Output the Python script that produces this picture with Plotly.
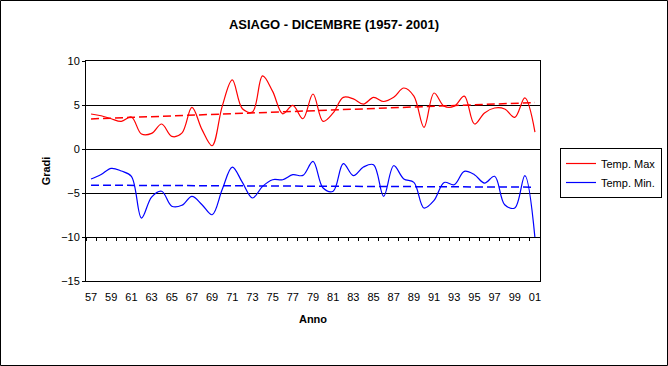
import numpy as np
import plotly.graph_objects as go

years = ["57", "58", "59", "60", "61", "62", "63", "64", "65", "66", "67", "68",
         "69", "70", "71", "72", "73", "74", "75", "76", "77", "78", "79", "80",
         "81", "82", "83", "84", "85", "86", "87", "88", "89", "90", "91", "92",
         "93", "94", "95", "96", "97", "98", "99", "00", "01"]

temp_max = [3.98, 3.78, 3.44, 3.14, 3.64, 1.70, 1.77, 2.84, 1.43, 1.80, 4.73, 2.20,
            0.37, 4.85, 7.85, 4.58, 4.20, 8.30, 6.55, 4.00, 4.95, 3.44, 6.25, 3.14,
            4.10, 5.87, 5.70, 5.10, 5.87, 5.40, 5.87, 6.93, 6.00, 2.46, 6.36, 4.85,
            4.85, 6.00, 2.84, 4.10, 4.66, 4.55, 3.60, 5.80, 1.93]

temp_min = [-3.41, -2.90, -2.20, -2.50, -3.10, -7.85, -5.46, -4.80, -6.50, -6.40, -5.38, -6.33,
            -7.47, -4.60, -2.05, -3.80, -5.57, -4.25, -3.49, -3.49, -2.92, -3.00, -1.40, -4.43,
            -4.80, -1.67, -3.03, -2.05, -1.78, -5.38, -1.90, -3.40, -3.80, -6.70, -5.84, -3.80,
            -4.06, -2.54, -2.92, -3.87, -3.10, -6.33, -6.70, -3.03, -10.10]

y_ticks = [10, 5, 0, -5, -10, -15]
x_labels = years[::2]

title_text = "ASIAGO - DICEMBRE (1957- 2001)"
series_names = ["Temp. Max", "Temp. Min."]

idx = np.arange(len(years))


def trend(values):
    a, b = np.polyfit(idx, np.array(values), 1)
    return (a * idx + b).tolist()


FONT = "Arial, 'Liberation Sans', sans-serif"

fig = go.Figure()
fig.add_trace(go.Scatter(x=years, y=temp_max, mode="lines", name=series_names[0],
                         line=dict(color="#FF0000", width=1.2, shape="spline", smoothing=1)))
fig.add_trace(go.Scatter(x=years, y=temp_min, mode="lines", name=series_names[1],
                         line=dict(color="#0000FF", width=1.2, shape="spline", smoothing=1)))
fig.add_trace(go.Scatter(x=years, y=trend(temp_max), mode="lines", showlegend=False,
                         xaxis="x2", hoverinfo="skip",
                         line=dict(color="#FF0000", width=1.5, dash="8px,4px")))
fig.add_trace(go.Scatter(x=years, y=trend(temp_min), mode="lines", showlegend=False,
                         xaxis="x2", hoverinfo="skip",
                         line=dict(color="#0000FF", width=1.5, dash="8px,4px")))

L, R, T, B = 86, 128, 61, 85
W, H = 668, 366
pw, ph = W - L - R, H - T - B

fig.update_layout(
    width=W, height=H,
    margin=dict(l=L, r=R, t=T, b=B, pad=0, autoexpand=False),
    paper_bgcolor="white", plot_bgcolor="white",
    font=dict(family=FONT, size=11, color="black"),
    title=dict(text="<b>" + title_text + "</b>", x=0.5, xref="container", xanchor="center",
               y=1 - 24 / H, yref="container", yanchor="middle",
               font=dict(family=FONT, size=13, color="black")),
    showlegend=True,
    legend=dict(x=(611 - L) / pw, y=(H - B - 173) / ph, xanchor="center", yanchor="middle",
                bgcolor="white", bordercolor="black", borderwidth=1,
                font=dict(family=FONT, size=11, color="black"),
                tracegroupgap=0, itemwidth=30),
    xaxis=dict(type="category", categoryorder="array", categoryarray=years,
               range=[-0.5, len(years) - 0.5], tickmode="array", tickvals=x_labels,
               ticktext=x_labels, showgrid=False, zeroline=False, showline=True,
               linecolor="black", linewidth=1, mirror=True, ticks="",
               ticklabelstandoff=6, tickfont=dict(family=FONT, size=11, color="black"),
               title=dict(text="<b>Anno</b>", standoff=13,
                          font=dict(family=FONT, size=11, color="black"))),
    xaxis2=dict(type="category", categoryorder="array", categoryarray=years,
                overlaying="x", anchor="free", position=(-10 - y_ticks[-1]) / (y_ticks[0] - y_ticks[-1]),
                range=[-0.5, len(years) - 0.5], showticklabels=False, ticks="outside",
                ticklen=3, tickcolor="black", tickwidth=1, tickson="boundaries",
                tickmode="linear", tick0=0, dtick=1, showgrid=False, zeroline=False,
                showline=True, linecolor="black", linewidth=1),
    yaxis=dict(range=[y_ticks[-1], y_ticks[0]], tickmode="array", tickvals=y_ticks,
               showgrid=True, gridcolor="black", gridwidth=1, zeroline=True,
               zerolinecolor="black", zerolinewidth=1, showline=True, linecolor="black",
               linewidth=1, mirror=True, ticks="outside", ticklen=3, tickcolor="black",
               tickfont=dict(family=FONT, size=11, color="black"),
               title=dict(text="<b>Gradi</b>", standoff=8,
                          font=dict(family=FONT, size=11, color="black"))),
    shapes=[dict(type="rect", xref="paper", yref="paper",
                 x0=(0.5 - L) / pw, x1=(W - 0.5 - L) / pw,
                 y0=(H - B - (H - 0.5)) / ph, y1=(H - B - 0.5) / ph,
                 line=dict(color="black", width=1), fillcolor="rgba(0,0,0,0)", layer="below")],
)

fig.write_html("out.html", config={"displayModeBar": False, "staticPlot": True})

# remove the browser's default 8px body margin so the figure sits at the page origin
with open("out.html", "r", encoding="utf-8") as f:
    html = f.read()
html = html.replace("<head>", "<head><style>html,body{margin:0;padding:0;overflow:hidden;}</style>", 1)
with open("out.html", "w", encoding="utf-8") as f:
    f.write(html)
